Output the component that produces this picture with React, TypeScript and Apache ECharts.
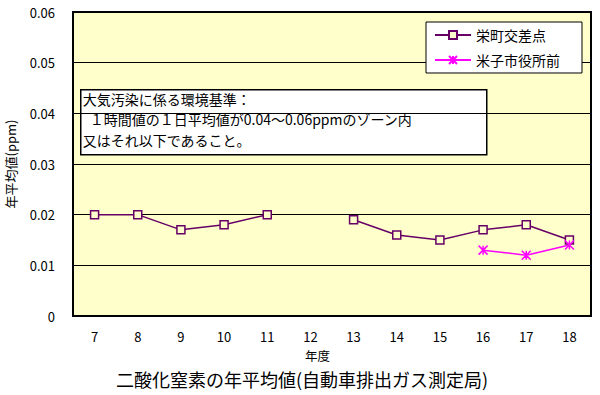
import React, { useEffect, useRef } from "react";
import * as echarts from "echarts";

const categories = ["7", "8", "9", "10", "11", "12", "13", "14", "15", "16", "17", "18"];
const sakaemachi = [0.020, 0.020, 0.017, 0.018, 0.020, null, 0.019, 0.016, 0.015, 0.017, 0.018, 0.015];
const yonagoShiyakusho = [null, null, null, null, null, null, null, null, null, 0.013, 0.012, 0.014];
const seriesNames = ["栄町交差点", "米子市役所前"];
const noteLines = [
  "大気汚染に係る環境基準：",
  "\u2002１時間値の１日平均値が0.04～0.06ppmのゾーン内",
  "又はそれ以下であること。",
];
const chartTitle = "二酸化窒素の年平均値(自動車排出ガス測定局)";
const xName = "年度";
const yName = "年平均値(ppm)";

const FONT = "'Noto Sans CJK JP', sans-serif";

export default function App() {
  const ref = useRef<HTMLDivElement>(null);
  useEffect(() => {
    if (!ref.current) return;
    const chart = echarts.init(ref.current, null, { renderer: "svg" });
    chart.setOption({
      animation: false,
      backgroundColor: "#ffffff",
      textStyle: { fontFamily: FONT, color: "#000" },
      grid: {
        left: 73,
        right: 9,
        top: 12,
        bottom: 79,
        outerBoundsMode: "none",
        containLabel: false,
        show: true,
        backgroundColor: "#FFFFCC",
        borderColor: "#000",
        borderWidth: 2,
      },
      xAxis: {
        type: "category",
        data: categories,
        boundaryGap: true,
        axisLine: { show: false },
        axisTick: { show: false },
        axisLabel: { color: "#000", fontSize: 13, margin: 14, fontFamily: FONT },
        splitLine: { show: false },
      },
      yAxis: {
        type: "value",
        min: 0,
        max: 0.06,
        interval: 0.01,
        name: yName,
        nameLocation: "middle",
        nameGap: 56,
        nameRotate: 90,
        nameTextStyle: { color: "#000", fontSize: 13, fontFamily: FONT },
        axisLine: { show: false },
        axisTick: { show: false },
        axisLabel: {
          color: "#000",
          fontSize: 13,
          margin: 18,
          fontFamily: FONT,
          formatter: (v: number) => (v === 0 ? "0" : v.toFixed(2)),
        },
        splitLine: { show: true, lineStyle: { color: "#000", width: 1 } },
      },
      legend: {
        orient: "vertical",
        left: 426,
        top: 22,
        backgroundColor: "#ffffff",
        borderColor: "#000",
        borderWidth: 1,
        padding: [6, 22, 6, 8],
        itemWidth: 36,
        itemHeight: 10,
        itemGap: 11,
        textStyle: { color: "#000", fontSize: 14, fontFamily: FONT },
        data: seriesNames,
      },
      graphic: [
        {
          type: "group",
          left: 80,
          top: 89,
          children: [
            {
              type: "rect",
              shape: { x: 0, y: 0, width: 406, height: 65 },
              style: { fill: "#ffffff", stroke: "#000", lineWidth: 1.5 },
            },
            ...noteLines.map((line, i) => ({
              type: "text",
              x: 2,
              y: 2 + i * 20.4,
              style: {
                text: line,
                fontSize: 14,
                fontFamily: FONT,
                fill: "#000",
              },
            })),
          ],
        },
        {
          type: "text",
          left: 305,
          top: 349,
          style: { text: xName, fontSize: 12.5, fontFamily: FONT, fill: "#000" },
        },
        {
          type: "text",
          left: 116,
          top: 370,
          style: { text: chartTitle, fontSize: 18, fontFamily: FONT, fill: "#000" },
        },
      ],
      series: [
        {
          name: seriesNames[0],
          type: "line",
          data: sakaemachi,
          connectNulls: false,
          symbol: "rect",
          symbolSize: 8,
          lineStyle: { color: "#660066", width: 1.5 },
          itemStyle: { color: "#FFFFCC", borderColor: "#660066", borderWidth: 1.5 },
        },
        {
          name: seriesNames[1],
          type: "line",
          data: yonagoShiyakusho,
          symbol: "path://M0,0L10,10M10,0L0,10M5,0L5,10",
          symbolSize: 9,
          lineStyle: { color: "#FF00FF", width: 1.5 },
          itemStyle: { color: "#FF00FF", borderColor: "#FF00FF", borderWidth: 1.5 },
        },
      ],
    });
    return () => chart.dispose();
  }, []);
  return <div ref={ref} style={{ width: 600, height: 395, position: "absolute", left: 0, top: 0 }} />;
}
